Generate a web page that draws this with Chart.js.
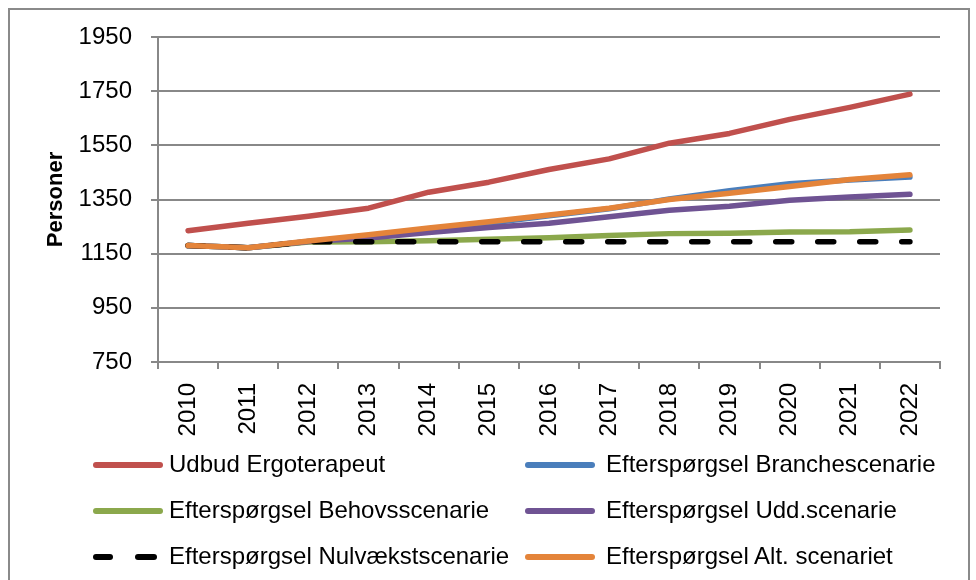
<!DOCTYPE html>
<html><head><meta charset="utf-8">
<script src="https://cdn.jsdelivr.net/npm/chart.js@4.4.0/dist/chart.umd.min.js"></script>
<style>
html,body{margin:0;padding:0;background:#fff;}
#wrap{position:relative;width:976px;height:580px;overflow:hidden;}
#frame{position:absolute;left:8px;top:8px;width:962px;height:640px;border:2px solid #8a8a8a;box-sizing:border-box;}
canvas{position:absolute;left:0;top:0;}
.leg{position:absolute;font-family:"Liberation Sans",Arial,sans-serif;font-size:24px;line-height:28px;color:#000;white-space:nowrap;}
.sw{position:absolute;height:6px;border-radius:3px;}
</style></head>
<body><div id="wrap"><div id="frame"></div><canvas id="c" width="976" height="580"></canvas><div id="legend"></div></div>
<script>
const years = ["2010","2011","2012","2013","2014","2015","2016","2017","2018","2019","2020","2021","2022"];
const udbudErgoterapeut = [1235,1262,1288,1318,1377,1414,1461,1500,1558,1594,1646,1690,1739];
const branchescenarie  = [1180,1172,1195,1215,1238,1262,1290,1316,1352,1382,1408,1422,1433];
const behovsscenarie   = [1180,1172,1193,1194,1198,1203,1209,1217,1224,1225,1230,1231,1237];
const uddScenarie      = [1180,1172,1195,1208,1228,1247,1262,1286,1310,1325,1347,1359,1369];
const nulvaekstscenarie= [1180,1172,1194,1194,1194,1194,1194,1194,1194,1194,1194,1194,1194];
const altScenariet     = [1180,1172,1197,1220,1245,1268,1293,1318,1350,1373,1398,1424,1441];
const seriesNames = ["Udbud Ergoterapeut","Efterspørgsel Branchescenarie","Efterspørgsel Behovsscenarie","Efterspørgsel Udd.scenarie","Efterspørgsel Nulvækstscenarie","Efterspørgsel Alt. scenariet"];
const yTicks = [750,950,1150,1350,1550,1750,1950];

const colors = ["#C0504D","#4A7EBB","#8BA84C","#6F5393","#000000","#E4843A"];
const values = [udbudErgoterapeut,branchescenarie,behovsscenarie,uddScenarie,nulvaekstscenarie,altScenariet];
const drawOrder = [6,5,4,3,2,1];

const datasets = values.map((v,i)=>({
  label: seriesNames[i], data: v, borderColor: colors[i], backgroundColor: colors[i],
  borderWidth: 5.5, pointRadius: 0, tension: 0, fill: false, order: drawOrder[i],
  borderCapStyle: 'round', borderJoinStyle: 'round',
  borderDash: i===4 ? [16,26] : []
}));

const gridColor = '#888888';
new Chart(document.getElementById('c').getContext('2d'), {
  type: 'line',
  data: { labels: years, datasets },
  options: {
    responsive: false, animation: false, devicePixelRatio: 1,
    layout: { padding: { left: 8, top: 37, right: 36, bottom: 138 } },
    plugins: { legend: { display: false }, tooltip: { enabled: false } },
    scales: {
      x: {
        offset: true,
        grid: { offset: true, drawOnChartArea: false, drawTicks: true, tickLength: 7, color: gridColor, lineWidth: 2 },
        border: { display: true, color: gridColor, width: 2 },
        ticks: { autoSkip: false, minRotation: 90, maxRotation: 90, padding: 14, color: '#000',
                 font: { family: 'Liberation Sans', size: 24 } },
        afterFit(s) { s.height = 80; }
      },
      y: {
        min: yTicks[0], max: yTicks[yTicks.length-1],
        afterBuildTicks(s) { s.ticks = yTicks.map(v=>({value:v})); },
        grid: { color: gridColor, lineWidth: 2, tickLength: 7 },
        border: { display: true, color: gridColor, width: 2 },
        ticks: { padding: 19, color: '#000', font: { family: 'Liberation Sans', size: 24 },
                 callback: (v) => String(v) },
        title: { display: true, text: 'Personer', color: '#000',
                 font: { family: 'Liberation Sans', size: 22, weight: 'bold' }, padding: { top: 35, bottom: 0 } },
        afterFit(s) { s.width = 150; }
      }
    }
  }
});

// HTML legend (two columns, three rows)
const legend = document.getElementById('legend');
const colX = [93, 525];
const rowY = [465, 511, 557];
seriesNames.forEach((name,i)=>{
  const col = i % 2, row = Math.floor(i/2);
  const x = colX[col], y = rowY[row];
  if (i === 4) {
    [[93,20],[135,22]].forEach(([dx,w])=>{
      const d = document.createElement('div'); d.className='sw';
      d.style.left = (dx)+'px'; d.style.top=(y-3)+'px'; d.style.width=w+'px'; d.style.background=colors[i];
      legend.appendChild(d);
    });
  } else {
    const d = document.createElement('div'); d.className='sw';
    d.style.left = x+'px'; d.style.top=(y-3)+'px'; d.style.width='70px'; d.style.background=colors[i];
    legend.appendChild(d);
  }
  const t = document.createElement('div'); t.className='leg';
  t.textContent = name; t.style.left=(x+(col?81:76))+'px'; t.style.top=(y-15)+'px';
  legend.appendChild(t);
});
</script>
</body></html>
